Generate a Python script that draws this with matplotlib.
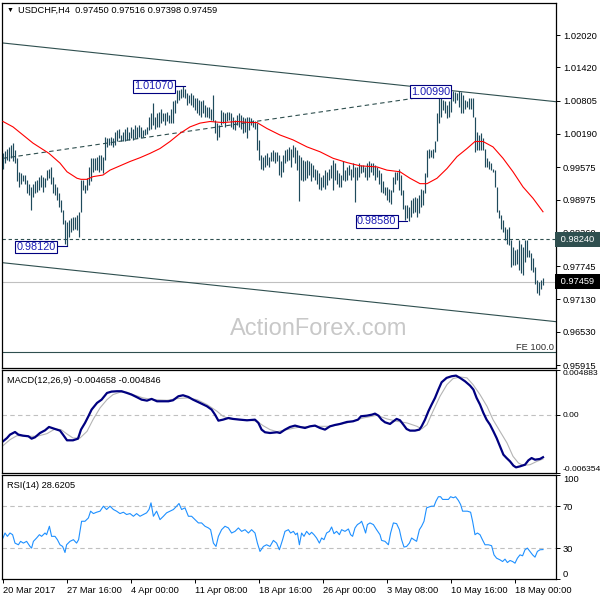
import numpy as np
import matplotlib
matplotlib.use('Agg')
import matplotlib.pyplot as plt
from matplotlib.transforms import blended_transform_factory

plt.rcParams['font.family'] = ['Liberation Sans', 'DejaVu Sans']
plt.rcParams['font.size'] = 6.7

# ---- H4 bars, high / low (bar index = position) ----
hi = [0.9984, 0.9988, 0.9992, 0.9995, 0.9998, 1.0003, 0.9989, 0.9974, 0.9949, 0.9946,
      0.9943, 0.9943, 0.9934, 0.9927, 0.9921, 0.9927, 0.9931, 0.9934, 0.9940, 0.9943,
      0.9940, 0.9937, 0.9952, 0.9955, 0.9958, 0.9940, 0.9927, 0.9921, 0.9909, 0.9897,
      0.9878, 0.9860, 0.9857, 0.9860, 0.9863, 0.9866, 0.9866, 0.9869, 0.9875, 0.9934,
      0.9934, 0.9924, 0.9937, 0.9958, 0.9974, 0.9974, 0.9974, 0.9977, 0.9980, 0.9980,
      0.9977, 1.0014, 1.0011, 1.0011, 1.0014, 1.0011, 1.0023, 1.0026, 1.0029, 1.0017,
      1.0023, 1.0029, 1.0032, 1.0023, 1.0032, 1.0029, 1.0035, 1.0032, 1.0035, 1.0032,
      1.0026, 1.0029, 1.0032, 1.0051, 1.0057, 1.0077, 1.0051, 1.0057, 1.0060, 1.0066,
      1.0057, 1.0057, 1.0060, 1.0054, 1.0066, 1.0080, 1.0082, 1.0100, 1.0100, 1.0103,
      1.0107, 1.0103, 1.0094, 1.0091, 1.0094, 1.0091, 1.0085, 1.0085, 1.0082, 1.0079,
      1.0082, 1.0072, 1.0069, 1.0069, 1.0066, 1.0091, 1.0045, 1.0039, 1.0035, 1.0063,
      1.0060, 1.0057, 1.0060, 1.0060, 1.0057, 1.0051, 1.0045, 1.0054, 1.0057, 1.0054,
      1.0051, 1.0048, 1.0051, 1.0051, 1.0048, 1.0045, 1.0042, 1.0039, 1.0008, 0.9980,
      0.9977, 0.9980, 0.9983, 0.9977, 0.9986, 0.9989, 0.9986, 0.9986, 0.9980, 0.9968,
      0.9980, 0.9989, 0.9992, 0.9995, 0.9992, 0.9998, 0.9995, 0.9989, 0.9980, 0.9977,
      0.9971, 0.9968, 0.9971, 0.9968, 0.9965, 0.9961, 0.9955, 0.9952, 0.9946, 0.9940,
      0.9943, 0.9952, 0.9949, 0.9955, 0.9961, 0.9971, 0.9965, 0.9952, 0.9946, 0.9943,
      0.9968, 0.9952, 0.9958, 0.9961, 0.9955, 0.9965, 0.9958, 0.9958, 0.9965, 0.9961,
      0.9961, 0.9958, 0.9965, 0.9968, 0.9966, 0.9965, 0.9961, 0.9958, 0.9952, 0.9946,
      0.9931, 0.9921, 0.9921, 0.9918, 0.9915, 0.9940, 0.9949, 0.9949, 0.9955, 0.9943,
      0.9915, 0.9887, 0.9887, 0.9884, 0.9897, 0.9900, 0.9903, 0.9900, 0.9906, 0.9918,
      0.9915, 0.9946, 0.9989, 0.9992, 0.9989, 0.9992, 1.0005, 1.0057, 1.0085, 1.0097,
      1.0082, 1.0079, 1.0072, 1.0079, 1.0094, 1.0099, 1.0097, 1.0094, 1.0099, 1.0097,
      1.0091, 1.0082, 1.0079, 1.0085, 1.0085, 1.0085, 1.0051, 1.0023, 1.0017, 1.0020,
      1.0011, 0.9992, 0.9974, 0.9968, 0.9965, 0.9955, 0.9952, 0.9921, 0.9878, 0.9869,
      0.9860, 0.9847, 0.9844, 0.9847, 0.9822, 0.9810, 0.9804, 0.9807, 0.9822, 0.9816,
      0.9810, 0.9822, 0.9822, 0.9804, 0.9798, 0.9789, 0.9773, 0.9749, 0.9745, 0.9749,
      0.97516]
lo = [0.9955, 0.9965, 0.9971, 0.9968, 0.9974, 0.9968, 0.9965, 0.9931, 0.9921, 0.9927,
      0.9931, 0.9927, 0.9909, 0.9906, 0.9878, 0.9903, 0.9909, 0.9912, 0.9915, 0.9921,
      0.9912, 0.9921, 0.9934, 0.9937, 0.9927, 0.9909, 0.9906, 0.9897, 0.9884, 0.9875,
      0.9853, 0.9816, 0.9812, 0.9829, 0.9838, 0.9841, 0.9844, 0.9841, 0.9829, 0.9875,
      0.9915, 0.9909, 0.9915, 0.9924, 0.9931, 0.9949, 0.9952, 0.9952, 0.9949, 0.9952,
      0.9947, 0.9971, 0.9995, 0.9998, 0.9998, 0.9995, 0.9998, 1.0005, 1.0011, 1.0005,
      1.0005, 1.0005, 1.0008, 1.0008, 1.0011, 1.0008, 1.0011, 1.0011, 1.0014, 1.0011,
      1.0013, 1.0017, 1.0019, 1.0026, 1.0029, 1.0035, 1.0029, 1.0032, 1.0032, 1.0039,
      1.0042, 1.0035, 1.0042, 1.0039, 1.0039, 1.0039, 1.0057, 1.0076, 1.0082, 1.0085,
      1.0088, 1.0085, 1.0072, 1.0076, 1.0072, 1.0069, 1.0063, 1.0057, 1.0054, 1.0051,
      1.0057, 1.0051, 1.0051, 1.0048, 1.0045, 1.0042, 1.0020, 1.0008, 1.0014, 1.0035,
      1.0039, 1.0032, 1.0042, 1.0045, 1.0032, 1.0029, 1.0026, 1.0035, 1.0032, 1.0029,
      1.0020, 1.0023, 1.0011, 1.0026, 1.0035, 1.0032, 1.0029, 0.9989, 0.9971, 0.9955,
      0.9952, 0.9958, 0.9961, 0.9958, 0.9968, 0.9968, 0.9965, 0.9968, 0.9943, 0.9940,
      0.9949, 0.9965, 0.9968, 0.9971, 0.9958, 0.9977, 0.9965, 0.9952, 0.9895, 0.9934,
      0.9931, 0.9934, 0.9937, 0.9943, 0.9931, 0.9940, 0.9934, 0.9927, 0.9918, 0.9915,
      0.9921, 0.9918, 0.9924, 0.9934, 0.9937, 0.9915, 0.9934, 0.9927, 0.9921, 0.9921,
      0.9934, 0.9931, 0.9934, 0.9943, 0.9934, 0.9940, 0.9894, 0.9934, 0.9940, 0.9946,
      0.9949, 0.9940, 0.9934, 0.9940, 0.9949, 0.9943, 0.9934, 0.9940, 0.9927, 0.9912,
      0.9909, 0.9906, 0.9897, 0.9894, 0.9890, 0.9912, 0.9927, 0.9934, 0.9915, 0.9906,
      0.9881, 0.9860, 0.9863, 0.9858, 0.9866, 0.9872, 0.9875, 0.9866, 0.9872, 0.9884,
      0.9887, 0.9909, 0.9940, 0.9974, 0.9977, 0.9974, 0.9986, 1.0005, 1.0039, 1.0051,
      1.0063, 1.0057, 1.0048, 1.0051, 1.0060, 1.0079, 1.0076, 1.0082, 1.0069, 1.0057,
      1.0057, 1.0066, 1.0069, 1.0066, 1.0066, 1.0051, 0.9986, 0.9989, 0.9989, 0.9989,
      0.9989, 0.9958, 0.9958, 0.9955, 0.9952, 0.9949, 0.9921, 0.9875, 0.9863, 0.9844,
      0.9838, 0.9822, 0.9816, 0.9813, 0.9773, 0.9776, 0.9776, 0.9779, 0.9767, 0.9761,
      0.9758, 0.9782, 0.9792, 0.9792, 0.9767, 0.9764, 0.9742, 0.9724, 0.9721, 0.9733,
      0.97398]

# red moving average
ma_i = [0, 5, 9, 15, 23, 28.5, 32, 37, 39, 42, 45, 50, 53.5, 58.5, 63.5, 68.5, 73.5, 78.5,
        83.5, 88.5, 93.5, 98.5, 103.5, 110, 117, 123.5, 127, 132, 138.5, 145, 152, 158.5,
        165, 172, 178.5, 187, 192, 198.5, 203.5, 208.5, 212, 217, 222, 227, 232, 236, 240,
        245, 250, 255, 260, 265, 270]
ma_v = [1.0042, 1.0032, 1.0020, 1.0002, 0.9983, 0.9965, 0.9949, 0.9937, 0.9935, 0.9935,
        0.9940, 0.9943, 0.9952, 0.9960, 0.9968, 0.9975, 0.9983, 0.9992, 1.0005, 1.0020,
        1.0032, 1.0039, 1.0042, 1.0040, 1.0042, 1.0040, 1.0040, 1.0029, 1.0017, 1.0008,
        0.9995, 0.9986, 0.9974, 0.9966, 0.9960, 0.9958, 0.9952, 0.9949, 0.9937, 0.9927,
        0.9927, 0.9937, 0.9955, 0.9977, 0.9992, 1.0005, 1.0005, 0.9995, 0.9974, 0.9949,
        0.9921, 0.9900, 0.9875]

# drawn objects: channel, dashed trend line, levels
chan_up = [1.01872, 1.00786]
chan_dn = [0.97807, 0.96717]
chan_x = [0, 276.5]
trend_x = [0, 207.5]
trend_v = [0.99739, 1.00860]
level_res = 0.98240
fe_level = 0.96154
last_price = 0.97459

# MACD (12,26,9)
macd_i = [0, 2, 3.5, 6, 7.7, 10, 12.7, 14.3, 16, 18.5, 21, 23, 26, 28.5, 30, 32, 35, 37.5, 39,
          41, 42.7, 44.3, 47, 49.3, 52, 54.3, 57, 59.3, 62, 64.3, 67, 69.3, 72, 74.3, 77, 80,
          82.7, 85, 87.7, 90, 92.7, 95, 98.5, 102, 104.3, 106, 107.7, 110, 112.7, 115, 118.5,
          122, 126, 127.7, 129.3, 131, 133.5, 137, 138.5, 141, 143.5, 146, 148.5, 151, 153.5,
          156, 158.5, 161, 163.5, 166, 168.5, 172, 175, 177.5, 179, 182, 184.5, 186, 187.7,
          189.3, 191, 193.5, 195.2, 196.8, 198.5, 200.2, 201.8, 203.5, 206, 208.2, 209.3,
          211, 212.7, 214.3, 216, 217.7, 219.3, 221.8, 224.3, 226.5, 228.5, 231, 233.5,
          235.2, 236.8, 238.5, 240.2, 241.8, 243.5, 245.2, 246.8, 248.5, 250.2, 251.8,
          253.5, 255.2, 256.5, 258.5, 261, 262.7, 264.3, 266, 268.5, 270]
macd_v = [-0.00292, -0.00256, -0.00219, -0.00190, -0.00219, -0.00230, -0.00237, -0.00263,
          -0.00248, -0.00201, -0.00172, -0.00135, -0.00157, -0.00175, -0.00219, -0.00281,
          -0.00281, -0.00263, -0.00164, -0.00091, -0.00018, 0.00055, 0.00128, 0.00164,
          0.00237, 0.00252, 0.00256, 0.00256, 0.00237, 0.00219, 0.00190, 0.00164, 0.00153,
          0.00172, 0.00146, 0.00146, 0.00146, 0.00157, 0.00201, 0.00212, 0.00193, 0.00164,
          0.00128, 0.00091, 0.00055, 0.0, -0.00066, -0.00055, -0.00037, -0.00047, -0.00055,
          -0.00062, -0.00055, -0.00091, -0.00164, -0.00193, -0.00201, -0.00193, -0.00201,
          -0.00164, -0.00135, -0.00120, -0.00135, -0.00146, -0.00128, -0.00120, -0.00146,
          -0.00164, -0.00128, -0.00113, -0.00102, -0.00080, -0.00073, -0.00055, -0.00018,
          -0.00011, 0.0, 0.00011, -0.00011, -0.00055, -0.00084, -0.00102, -0.00073,
          -0.00047, -0.00062, -0.00110, -0.00157, -0.00175, -0.00175, -0.00164, -0.00128,
          -0.00055, 0.00037, 0.00110, 0.00183, 0.00274, 0.00354, 0.00402, 0.00420, 0.00427,
          0.00402, 0.00365, 0.00318, 0.00274, 0.00183, 0.00110, 0.00018, -0.00055, -0.00110,
          -0.00183, -0.00256, -0.00347, -0.00438, -0.00475, -0.00511, -0.00558, -0.00577,
          -0.00566, -0.00548, -0.00500, -0.00475, -0.00493, -0.00485, -0.00466]
sig_i = [0, 3.5, 7, 12, 17, 22, 26, 29, 32, 35, 38.5, 42, 45, 48.5, 52, 55, 58.5, 62, 65, 70,
         75, 82, 87, 92, 97, 102, 107, 110, 113.5, 118.5, 123.5, 127, 130, 133.5, 137, 143.5,
         148.5, 155, 163.5, 172, 180, 187, 192, 197, 202, 207, 209.3, 212, 215, 218.5, 222,
         225, 228.5, 232, 235, 238.5, 242, 245, 248.5, 252, 255, 257.7, 260, 263.5, 267, 270]
sig_v = [-0.00339, -0.00274, -0.00230, -0.00237, -0.00237, -0.00208, -0.00157, -0.00164,
         -0.00212, -0.00256, -0.00256, -0.00183, -0.00055, 0.00073, 0.00164, 0.00219, 0.00245,
         0.00245, 0.00219, 0.00183, 0.00164, 0.00157, 0.00175, 0.00183, 0.00164, 0.00110,
         0.00037, -0.00018, -0.00047, -0.00055, -0.00062, -0.00073, -0.00120, -0.00164,
         -0.00186, -0.00157, -0.00135, -0.00128, -0.00128, -0.00091, -0.00037, -0.00007,
         -0.00047, -0.00073, -0.00091, -0.00128, -0.00157, -0.00110, 0.00037, 0.00201,
         0.00329, 0.00394, 0.00412, 0.00402, 0.00329, 0.00219, 0.00091, -0.00055, -0.00183,
         -0.00310, -0.00456, -0.00529, -0.00555, -0.00548, -0.00511, -0.00485]

# RSI(14)
rsi_i = [0, 1, 2.2, 3.5, 4.8, 6, 7.7, 8.8, 10.2, 11.8, 13.5, 14.3, 15.2, 16.8, 18.2, 19.3, 21,
         21.8, 23.2, 24.3, 26, 27.2, 28.5, 29.8, 31, 31.8, 33.5, 35.2, 36.8, 37.8, 39.3, 41,
         42.7, 43.8, 45.2, 46.8, 48.5, 50.2, 51.8, 53.5, 55.2, 56.8, 58.5, 60.2, 61.8, 63.5,
         65.2, 66.8, 68.5, 70.2, 71.8, 73, 74, 75.2, 76.8, 78.5, 80.2, 81.8, 83.5, 85.2, 86.8,
         88, 89.3, 91, 92.7, 94.3, 96, 97.7, 99.3, 101, 102.7, 103.8, 105.2, 106.5, 107.7,
         109.3, 111, 112.7, 114.3, 116, 117.7, 119.3, 121, 122.7, 124.3, 126, 127.2, 128.5,
         130.2, 131.8, 133.5, 135.2, 136.8, 138.2, 139.8, 141, 142.7, 143.8, 145.2, 146.3,
         147.2, 148.2, 149.3, 150.5, 151.8, 153.2, 154.3, 155.5, 156.8, 158.2, 159.3, 160.5,
         161.8, 163.2, 164.3, 165.5, 166.8, 168.2, 169.3, 171, 172.7, 173.8, 174.8, 176,
         177.2, 178.5, 179.3, 180.2, 181.3, 182.2, 183.5, 185.2, 186.8, 188.5, 189.3, 191,
         192.7, 193.8, 195.2, 196.8, 198.2, 199.3, 200.5, 201.8, 203.2, 204.3, 205.5, 206.8,
         208.2, 209.3, 210.5, 211.8, 213.2, 214.3, 215.5, 216.5, 217.7, 218.8, 219.8, 221,
         222.7, 223.8, 225.2, 226.3, 227.7, 228.8, 229.8, 231, 232.2, 233.8, 234.8, 236,
         237.2, 238.5, 239.7, 241, 242.7, 244.3, 245.5, 246.8, 248.5, 249.8, 251, 252.2,
         253.5, 254.8, 256, 257.2, 258.5, 259.8, 261, 262.2, 263.5, 264.8, 266, 267.2, 268.5,
         270]
rsi_v = [39.7, 44.5, 41.3, 44.5, 42.9, 34.8, 33.2, 36.5, 34.8, 36.5, 31.6, 30.0, 36.5, 39.7,
         42.9, 41.3, 44.5, 42.9, 51.0, 41.3, 41.3, 38.1, 33.2, 31.6, 25.8, 33.2, 36.5, 38.1,
         34.8, 38.1, 55.8, 55.8, 59.0, 65.5, 63.2, 64.5, 65.5, 70.3, 67.1, 70.3, 67.1, 65.5,
         63.2, 64.5, 62.3, 63.2, 60.6, 63.2, 60.6, 62.3, 63.9, 67.1, 73.5, 60.6, 65.5, 57.4,
         60.6, 63.9, 65.5, 67.1, 70.3, 72.9, 67.1, 68.7, 60.6, 60.6, 57.4, 54.2, 54.2, 51.0,
         49.4, 47.7, 34.8, 31.6, 41.3, 47.7, 51.0, 49.4, 44.5, 46.1, 49.4, 46.1, 47.7, 44.5,
         47.7, 44.5, 34.8, 26.8, 31.6, 33.2, 31.6, 37.4, 34.8, 28.4, 38.1, 46.1, 47.7, 44.5,
         46.1, 42.9, 44.5, 33.2, 44.5, 41.3, 46.1, 42.9, 45.2, 42.9, 39.7, 34.8, 39.7, 38.1,
         44.5, 46.1, 50.3, 43.9, 46.1, 42.9, 47.7, 46.1, 48.4, 42.9, 41.3, 49.4, 52.6, 54.2,
         55.8, 51.0, 44.5, 52.6, 54.2, 52.6, 47.7, 42.9, 37.4, 36.5, 33.2, 44.5, 54.2, 53.5,
         47.7, 38.1, 31.0, 31.6, 34.8, 39.7, 38.1, 36.5, 47.7, 51.0, 55.8, 68.7, 69.7, 70.3,
         70.3, 75.2, 79.4, 79.4, 76.8, 76.8, 76.8, 79.4, 78.4, 79.4, 75.8, 71.9, 65.5, 65.5,
         65.5, 64.5, 55.8, 42.9, 44.5, 42.9, 38.1, 33.2, 33.2, 32.3, 23.5, 20.3, 18.7, 17.1,
         19.4, 16.1, 18.1, 17.1, 15.5, 20.3, 23.5, 22.6, 28.4, 30.0, 26.8, 23.5, 21.3, 26.8,
         28.4, 28.6]

price_ticks = [1.02020, 1.01420, 1.00805, 1.00190, 0.99575, 0.98975, 0.98360, 0.97745,
               0.97130, 0.96530, 0.95915]
date_pos = [0, 32, 64, 96, 128, 160, 192, 224, 256]
date_lbl = ['20 Mar 2017', '27 Mar 16:00', '4 Apr 00:00', '11 Apr 08:00', '18 Apr 16:00',
            '26 Apr 00:00', '3 May 08:00', '10 May 16:00', '18 May 00:00']

bar_c = '#1f4b5c'
obj_c = '#2f4f4f'

fig = plt.figure(figsize=(6, 6), dpi=100)
ax = fig.add_axes([2 / 600, 1 - 368 / 600, 554 / 600, 365 / 600])
axm = fig.add_axes([2 / 600, 1 - 472.7 / 600, 554 / 600, 102.7 / 600])
axr = fig.add_axes([2 / 600, 1 - 579.3 / 600, 554 / 600, 104 / 600])

for a in (ax, axm, axr):
    a.set_xlim(-0.5, 276.5)
    for s in a.spines.values():
        s.set_linewidth(0.9)
        s.set_color('black')
    a.yaxis.tick_right()
    a.tick_params(axis='y', direction='out', length=3, width=0.7, pad=2, labelsize=6.7)

# ---- price panel ----
ax.set_ylim(0.95860, 1.02612)
idx = np.arange(len(hi))
ax.vlines(idx, lo, hi, color=bar_c, lw=0.85, zorder=3)
ax.plot(ma_i, ma_v, color='red', lw=0.8, zorder=4)
ax.plot(chan_x, chan_up, color=obj_c, lw=0.8)
ax.plot(chan_x, chan_dn, color=obj_c, lw=0.8)
ax.plot(trend_x, trend_v, color=obj_c, lw=0.8, ls=(0, (4, 3)))
ax.axhline(level_res, color=obj_c, lw=0.8, ls=(0, (3, 2.5)))
ax.axhline(fe_level, color=obj_c, lw=0.8)
ax.axhline(last_price, color='#c0c0c0', lw=0.8, zorder=1)
ax.set_yticks(price_ticks)
ax.set_yticklabels(['%.5f' % v for v in price_ticks])
ax.set_xticks([])

ax.text(0.572, 0.107, 'ActionForex.com', transform=ax.transAxes, ha='center', va='center',
        fontsize=17, color='#c8c8c8', zorder=0)
ax.text(275.5, fe_level, 'FE 100.0', ha='right', va='bottom', fontsize=6.7, color='#303030')


def tag(x, y, txt):
    ax.text(x, y, txt, ha='center', va='center', fontsize=7.8, color='#1c1cb4', zorder=6,
            bbox=dict(boxstyle='square,pad=0.12', fc='white', ec='#000080', lw=0.8))


tag(75.5, 1.0107, '1.01070')
ax.plot([86, 91], [1.0107, 1.0107], color='#000080', lw=0.8, zorder=5)
tag(213.8, 1.0097, '1.00990')
tag(16.5, 0.98095, '0.98120')
ax.plot([27, 32], [0.9812, 0.9812], color='#000080', lw=0.8, zorder=5)
tag(186.8, 0.98572, '0.98580')
ax.plot([197.5, 202], [0.9858, 0.9858], color='#000080', lw=0.8, zorder=5)

tr = blended_transform_factory(ax.transAxes, ax.transData)
ax.text(1.004, level_res, ' 0.98240 ', transform=tr, ha='left', va='center', color='white',
        fontsize=6.7, clip_on=False, zorder=7,
        bbox=dict(boxstyle='square,pad=0.3', fc='#2f4f4f', ec='none'))
ax.text(1.004, last_price, ' 0.97459 ', transform=tr, ha='left', va='center', color='white',
        fontsize=6.7, clip_on=False, zorder=7,
        bbox=dict(boxstyle='square,pad=0.3', fc='black', ec='none'))

fig.text(7 / 600, 1 - 10 / 600, '\u25bc', fontsize=5, va='center', ha='left')
fig.text(18 / 600, 1 - 10 / 600, 'USDCHF,H4  0.97450 0.97516 0.97398 0.97459',
         fontsize=6.7, va='center', ha='left')

# ---- MACD panel ----
axm.set_ylim(-0.006354, 0.004883)
axm.axhline(0, color='#c0c0c0', lw=0.8, ls=(0, (4, 3)))
axm.plot(sig_i, sig_v, color='#b4b4b4', lw=0.8)
axm.plot(macd_i, macd_v, color='#000080', lw=1.6)
axm.set_xticks([])
axm.set_yticks([0.004883, 0.0, -0.006354])
axm.set_yticklabels(['0.004883', '0.00', '-0.006354'])
axm.tick_params(axis='y', labelsize=6.1)
ml = axm.get_yticklabels()
ml[0].set_va('top')
ml[2].set_va('bottom')
axm.text(5 / 554, 0.9, 'MACD(12,26,9) -0.004658 -0.004846', transform=axm.transAxes,
         ha='left', va='center', fontsize=6.7)

# ---- RSI panel ----
axr.set_ylim(0, 100)
axr.axhline(70, color='#c0c0c0', lw=0.8, ls=(0, (4, 3)))
axr.axhline(30, color='#c0c0c0', lw=0.8, ls=(0, (4, 3)))
axr.plot(rsi_i, rsi_v, color='#1e90ff', lw=0.8)
axr.set_yticks([100, 70, 30, 0])
axr.set_yticklabels(['100', '70', '30', '0'])
rl = axr.get_yticklabels()
rl[0].set_va('top')
rl[3].set_va('bottom')
axr.text(5 / 554, 0.9, 'RSI(14) 28.6205', transform=axr.transAxes, ha='left', va='center',
         fontsize=6.7)
axr.set_xticks(date_pos)
axr.set_xticklabels(date_lbl)
axr.tick_params(axis='x', direction='out', length=3, width=0.7, pad=2, labelsize=6.7)
for t in axr.get_xticklabels():
    t.set_ha('left')

plt.savefig('out.png', dpi=100)
